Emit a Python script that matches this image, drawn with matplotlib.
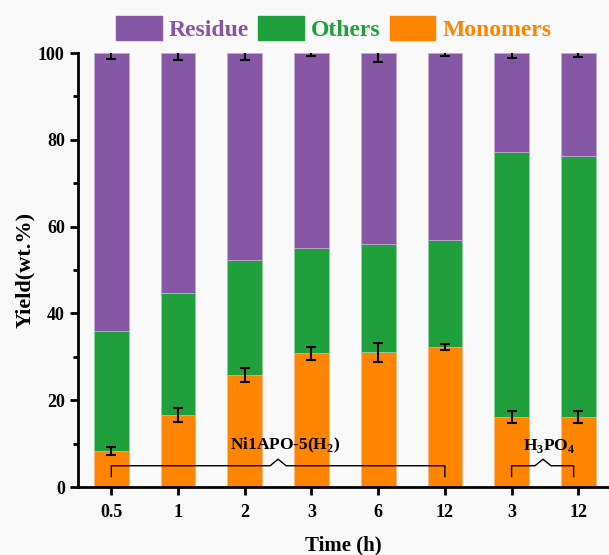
import matplotlib.pyplot as plt
import matplotlib.patches as mpatches
import numpy as np

plt.rcParams['font.family'] = ['Liberation Serif', 'DejaVu Serif']
plt.rcParams['font.weight'] = 'bold'
plt.rcParams['mathtext.fontset'] = 'custom'
plt.rcParams['mathtext.rm'] = 'Liberation Serif:bold'

labels = ['0.5', '1', '2', '3', '6', '12', '3', '12']
monomers = np.array([8.3, 16.6, 25.8, 30.8, 31.0, 32.2, 16.1, 16.1])
others_top = np.array([36.0, 44.6, 52.2, 55.0, 56.1, 57.0, 77.1, 76.3])
residue_top = np.array([100, 100, 100, 100, 100, 100, 100, 100])
mono_err = np.array([1.0, 1.6, 1.6, 1.5, 2.1, 0.7, 1.4, 1.4])
res_err = np.array([1.3, 1.5, 1.7, 0.6, 2.0, 0.65, 1.15, 1.0])

others = others_top - monomers
residue = residue_top - others_top

c_res = '#8557a5'
c_oth = '#20a03c'
c_mon = '#ff8400'

x = np.arange(len(labels))
width = 0.52

fig = plt.figure(figsize=(6.09, 5.55), dpi=100, facecolor='#f9f9f9')
ax = fig.add_axes([0.128, 0.1225, 0.872, 0.782])
ax.set_facecolor('#f9f9f9')

ax.bar(x, monomers, width, color=c_mon, edgecolor='#ffb880', linewidth=0.6)
ax.bar(x, others, width, bottom=monomers, color=c_oth, edgecolor='#8fd09c', linewidth=0.6)
ax.bar(x, residue, width, bottom=others_top, color=c_res, edgecolor='#c2abd2', linewidth=0.6)

ekw = dict(fmt='none', ecolor='black', elinewidth=1.5, capsize=3.5, capthick=1.5)
ax.errorbar(x, monomers, yerr=mono_err, **ekw)
ax.errorbar(x, residue_top, yerr=res_err, **ekw)

# group brackets
def bracket(x0, x1, xm, txt):
    yl, ye, yp = 4.9, 2.4, 6.4
    ax.plot([x0, x0, xm - 0.12, xm, xm + 0.12, x1, x1],
            [ye, yl, yl, yp, yl, yl, ye], color='black', lw=1.0)
    ax.text(xm + 0.1, 7.3, txt, ha='center', va='bottom', fontsize=12.5, fontweight='bold')

bracket(0, 5, 2.5, 'Ni1APO-5(H$_2$)')
bracket(6, 6.93, 6.47, 'H$_3$PO$_4$')

ax.set_xlim(-0.5, 7.46)
ax.set_ylim(0, 100)
ax.set_xticks(x)
ax.set_xticklabels(labels)
ax.set_yticks([0, 20, 40, 60, 80, 100])
ax.set_yticks([10, 30, 50, 70, 90], minor=True)

for s in ['top', 'right']:
    ax.spines[s].set_visible(False)
for s in ['left', 'bottom']:
    ax.spines[s].set_linewidth(2)

ax.tick_params(axis='both', which='major', direction='out', length=6, width=2, labelsize=13)
ax.tick_params(axis='x', pad=6)
ax.tick_params(axis='y', which='minor', direction='out', length=3.5, width=2)

ax.set_xlabel('Time (h)', fontsize=15, fontweight='bold', labelpad=11)
ax.set_ylabel('Yield(wt.%)', fontsize=16, fontweight='bold', labelpad=2)

handles = [mpatches.Patch(color=c_res), mpatches.Patch(color=c_oth), mpatches.Patch(color=c_mon)]
fig.legend(handles, ['Residue', 'Others', 'Monomers'], ncol=3,
           loc='center', bbox_to_anchor=(0.548, 0.949), frameon=False,
           labelcolor=[c_res, c_oth, c_mon],
           handlelength=1.92, handleheight=1.18, handletextpad=0.3, columnspacing=0.4,
           prop={'weight': 'bold', 'size': 17})

fig.savefig('out.png', dpi=100, facecolor=fig.get_facecolor())
